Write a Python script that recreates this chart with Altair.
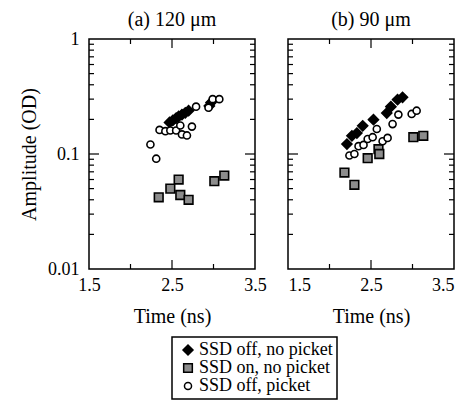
import altair as alt
import pandas as pd

series_names = ["SSD off, no picket", "SSD on, no picket", "SSD off, picket"]

# Panel (a) 120 um
a_diam_t = [2.47, 2.51, 2.55, 2.58, 2.62, 2.66, 2.70, 2.95, 2.97]
a_diam_amp = [0.188, 0.196, 0.205, 0.212, 0.220, 0.228, 0.238, 0.262, 0.280]
a_sq_t = [2.34, 2.48, 2.58, 2.60, 2.70, 3.01, 3.13]
a_sq_amp = [0.042, 0.050, 0.060, 0.044, 0.040, 0.058, 0.065]
a_circ_t = [2.24, 2.31, 2.35, 2.42, 2.48, 2.55, 2.60, 2.62, 2.68, 2.74, 2.79, 2.94, 2.99, 3.07]
a_circ_amp = [0.121, 0.091, 0.162, 0.158, 0.160, 0.160, 0.177, 0.148, 0.145, 0.173, 0.258, 0.253, 0.300, 0.300]

# Panel (b) 90 um
b_diam_t = [2.21, 2.27, 2.33, 2.40, 2.53, 2.69, 2.74, 2.82, 2.88]
b_diam_amp = [0.122, 0.144, 0.152, 0.176, 0.199, 0.227, 0.258, 0.297, 0.311]
b_sq_t = [2.18, 2.30, 2.46, 2.59, 2.60, 3.01, 3.13]
b_sq_amp = [0.069, 0.054, 0.092, 0.110, 0.100, 0.140, 0.144]
b_circ_t = [2.24, 2.30, 2.35, 2.41, 2.46, 2.52, 2.57, 2.64, 2.70, 2.76, 2.83, 2.99, 3.05]
b_circ_amp = [0.097, 0.100, 0.117, 0.120, 0.135, 0.140, 0.165, 0.129, 0.138, 0.182, 0.220, 0.223, 0.238]

x_labels = [1.5, 2.5, 3.5]
x_minor = [2.0, 3.0]
x_major = [2.5]
y_labels = [0.01, 0.1, 1]
y_minor = [0.02, 0.03, 0.04, 0.05, 0.06, 0.07, 0.08, 0.09,
           0.2, 0.3, 0.4, 0.5, 0.6, 0.7, 0.8, 0.9]
y_major = [0.1]

FONT = "Liberation Serif"
W, H = 166, 230


def make_df(dt, da, st, sa, ct, ca):
    rows = []
    for t, a in zip(dt, da):
        rows.append({"t": t, "amp": a, "series": series_names[0]})
    for t, a in zip(st, sa):
        rows.append({"t": t, "amp": a, "series": series_names[1]})
    for t, a in zip(ct, ca):
        rows.append({"t": t, "amp": a, "series": series_names[2]})
    return pd.DataFrame(rows)


xscale = alt.Scale(domain=[1.5, 3.5], nice=False, zero=False, padding=0)
yscale = alt.Scale(type="log", domain=[0.01, 1], nice=False, padding=0)


def panel(df, title, show_y, title_offset, flush):
    xaxis = alt.Axis(values=x_labels, format=".1f", title="Time (ns)", ticks=False,
                     domain=False, grid=False, labelFlush=flush, labelOverlap=False,
                     labelPadding=7, titlePadding=12)
    if show_y:
        yaxis = alt.Axis(values=y_labels, format="~g", title="Amplitude (OD)", ticks=False,
                         domain=False, grid=False, labelFlush=False, labelOverlap=False,
                         labelPadding=10, titlePadding=8)
    else:
        yaxis = None
    leg = alt.Legend(title=None)
    pts = alt.Chart(df).mark_point(filled=True, strokeWidth=1.6, opacity=1).encode(
        x=alt.X("t:Q", scale=xscale, axis=xaxis),
        y=alt.Y("amp:Q", scale=yscale, axis=yaxis),
        shape=alt.Shape("series:N", scale=alt.Scale(domain=series_names,
                        range=["diamond", "square", "circle"]), legend=leg),
        fill=alt.Fill("series:N", scale=alt.Scale(domain=series_names,
                      range=["black", "#8c8c8c", "white"]), legend=leg),
        stroke=alt.Stroke("series:N", scale=alt.Scale(domain=series_names,
                          range=["black", "black", "black"]), legend=leg),
        size=alt.Size("series:N", scale=alt.Scale(domain=series_names,
                      range=[100, 50, 55]), legend=leg),
    )
    layers = [pts]
    for vals, ln in [(y_minor, 5), (y_major, 10)]:
        d = pd.DataFrame({"amp": vals})
        layers.append(alt.Chart(d).mark_tick(color="black", thickness=1.2, size=ln,
                                             orient="horizontal", opacity=1).encode(
            y=alt.Y("amp:Q", scale=yscale, axis=yaxis), x=alt.value(ln / 2)))
        layers.append(alt.Chart(d).mark_tick(color="black", thickness=1.2, size=ln,
                                             orient="horizontal", opacity=1).encode(
            y=alt.Y("amp:Q", scale=yscale, axis=yaxis), x=alt.value(W - ln / 2)))
    for vals, ln in [(x_minor, 5), (x_major, 9)]:
        d = pd.DataFrame({"t": vals})
        layers.append(alt.Chart(d).mark_tick(color="black", thickness=1.2, size=ln,
                                             orient="vertical", opacity=1).encode(
            x=alt.X("t:Q", scale=xscale, axis=xaxis), y=alt.value(H - ln / 2)))
        layers.append(alt.Chart(d).mark_tick(color="black", thickness=1.2, size=ln,
                                             orient="vertical", opacity=1).encode(
            x=alt.X("t:Q", scale=xscale, axis=xaxis), y=alt.value(ln / 2)))
    return alt.layer(*layers).properties(
        width=W, height=H,
        title=alt.TitleParams(title, anchor="middle", frame="group", offset=title_offset,
                              font=FONT, fontSize=20, fontWeight="normal", color="black"))


dfa = make_df(a_diam_t, a_diam_amp, a_sq_t, a_sq_amp, a_circ_t, a_circ_amp)
dfb = make_df(b_diam_t, b_diam_amp, b_sq_t, b_sq_amp, b_circ_t, b_circ_amp)

chart = alt.hconcat(
    panel(dfa, "(a) 120 \u03bcm", True, 0.5, False),
    panel(dfb, "(b) 90 \u03bcm", False, 9.5, True),
    spacing=20,
).properties(
    padding={"left": 10, "top": 0, "right": 0, "bottom": 0}
).configure_view(
    stroke="black", strokeWidth=1.5
).configure_axis(
    labelFont=FONT, labelFontSize=18, labelColor="black",
    titleFont=FONT, titleFontSize=20, titleFontWeight="normal", titleColor="black",
).configure_legend(
    orient="none", legendX=83, legendY=298, strokeColor="black", strokeWidth=1.5,
    padding=4, symbolOffset=3, labelFont=FONT, labelFontSize=18, labelColor="black",
    labelOffset=2, symbolStrokeWidth=1.5, rowPadding=0, fillColor="white",
)

chart.save("out.html", embed_options={"renderer": "svg", "actions": False})
